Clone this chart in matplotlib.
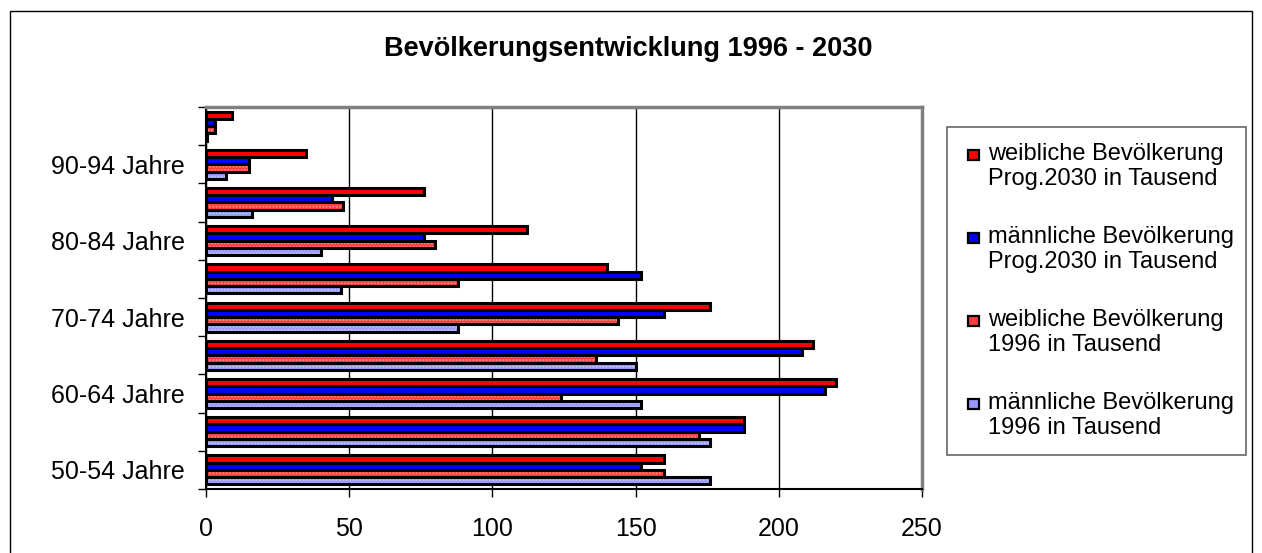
import matplotlib
matplotlib.use("Agg")
import matplotlib.pyplot as plt
import numpy as np
from matplotlib.patches import Rectangle

plt.rcParams['font.family'] = ['Liberation Sans', 'DejaVu Sans']

# age groups, bottom to top
age_groups = ["50-54 Jahre", "55-59 Jahre", "60-64 Jahre", "65-69 Jahre", "70-74 Jahre",
              "75-79 Jahre", "80-84 Jahre", "85-89 Jahre", "90-94 Jahre", "95+ Jahre"]
# excel only shows every second label
shown_labels = ["50-54 Jahre", "60-64 Jahre", "70-74 Jahre", "80-84 Jahre", "90-94 Jahre"]

w_2030 = [160, 188, 220, 212, 176, 140, 112, 76, 35, 9]
m_2030 = [152, 188, 216, 208, 160, 152, 76, 44, 15, 3]
w_1996 = [160, 172, 124, 136, 144, 88, 80, 48, 15, 3]
m_1996 = [176, 176, 152, 150, 88, 47, 40, 16, 7, 0.5]

series_names = ["weibliche Bevölkerung\nProg.2030 in Tausend",
                "männliche Bevölkerung\nProg.2030 in Tausend",
                "weibliche Bevölkerung\n1996 in Tausend",
                "männliche Bevölkerung\n1996 in Tausend"]

title = "Bevölkerungsentwicklung 1996 - 2030"
x_ticks = [0, 50, 100, 150, 200, 250]

W, H = 1262, 553
fig = plt.figure(figsize=(W / 100, H / 100), dpi=100)

# outer chart frame
fig.patches.append(Rectangle((10 / W, -0.01), 1242 / W, (H - 11) / H + 0.01,
                             transform=fig.transFigure, fill=False,
                             edgecolor='black', linewidth=1))

ax = fig.add_axes([206 / W, 64 / H, 716 / W, 382 / H])

y = np.arange(len(age_groups))
h = 0.19
# (values, face, hatch colour, hatch)
styles = [
    (w_2030, '#FF0000', None, None),
    (m_2030, '#0000FF', None, None),
    (w_1996, '#FF3C3C', '#FF9090', '.....'),
    (m_1996, '#9999FF', '#C8C8FF', '.....'),
]
offsets = [1.5 * h, 0.5 * h, -0.5 * h, -1.5 * h]

for (vals, face, hcol, hatch), off in zip(styles, offsets):
    if hatch:
        ax.barh(y + off, vals, height=h, color=face, edgecolor=hcol,
                hatch=hatch, linewidth=0, zorder=3)
        ax.barh(y + off, vals, height=h, fill=False, edgecolor='black',
                linewidth=2.2, zorder=4)
    else:
        ax.barh(y + off, vals, height=h, color=face, edgecolor='black',
                linewidth=2.2, zorder=3)

ax.set_xlim(0, 250)
ax.set_ylim(-0.5, len(age_groups) - 0.5)
ax.set_xticks(x_ticks)
ax.set_xticklabels([str(t) for t in x_ticks], fontsize=18)
ax.tick_params(axis='x', length=6, width=1, pad=14, direction='out')

ax.set_yticks(np.arange(-0.5, len(age_groups), 1.0))
ax.set_yticklabels([])
ax.tick_params(axis='y', which='major', length=6, width=1, direction='out')
ax.set_yticks([age_groups.index(l) for l in shown_labels], minor=True)
ax.set_yticklabels(shown_labels, minor=True, fontsize=18)
ax.tick_params(axis='y', which='minor', length=0, pad=15)

ax.grid(axis='x', color='black', linewidth=1, zorder=1)
ax.set_axisbelow(True)
for s in ['left', 'bottom']:
    ax.spines[s].set_color('black')
    ax.spines[s].set_linewidth(1.5)
for s in ['top', 'right']:
    ax.spines[s].set_color('#808080')
    ax.spines[s].set_linewidth(2.5)

fig.text(628 / W, 1 - 49 / H, title, ha='center', va='center',
         fontsize=19.5, fontweight='bold')

# legend box drawn like the excel one
fig.patches.append(Rectangle((947 / W, 1 - 455 / H), 299 / W, 328 / H,
                             transform=fig.transFigure, fill=False,
                             edgecolor='#666666', linewidth=1.2))
for i, ((vals, face, hcol, hatch), name) in enumerate(zip(styles, series_names)):
    yc = 155 + 83 * i
    fig.patches.append(Rectangle((968 / W, 1 - (yc + 5) / H), 11 / W, 10 / H,
                                 transform=fig.transFigure, facecolor=face,
                                 edgecolor='black', linewidth=1.6))
    fig.text(988 / W, 1 - (yc - 12) / H, name, ha='left', va='top',
             fontsize=17, linespacing=1.2)

fig.savefig("out.png", dpi=100)
